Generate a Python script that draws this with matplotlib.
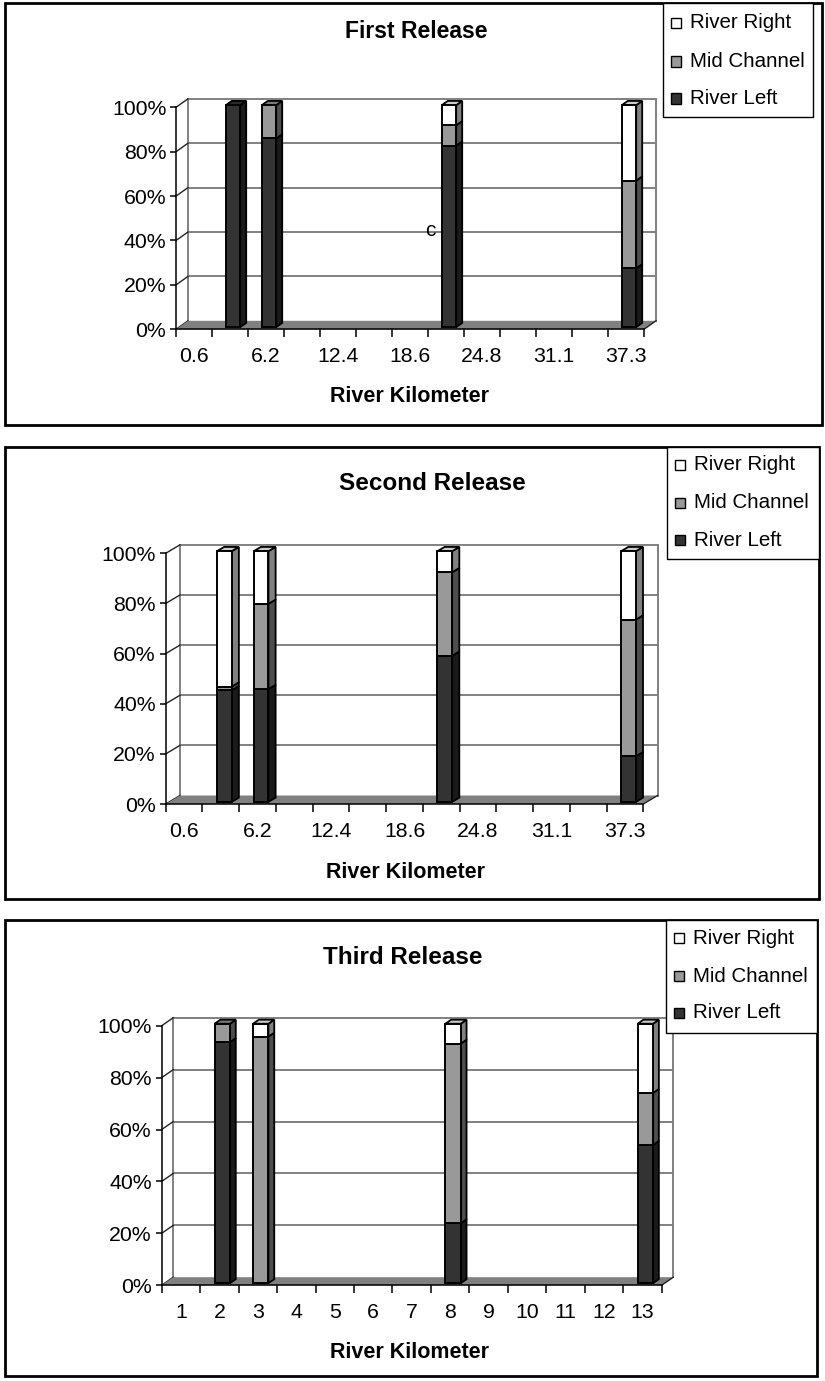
import numpy as np
import matplotlib
matplotlib.use("Agg")
import matplotlib.pyplot as plt
from matplotlib.patches import Rectangle, Polygon

plt.rcParams['font.family'] = ['Liberation Sans', 'DejaVu Sans']

# series, bottom to top of each stack
series_names = ["River Left", "Mid Channel", "River Right"]
series_colors = ["#333333", "#999999", "#ffffff"]

km_labels = ["0.6", "3.1", "6.2", "9.3", "12.4", "15.5", "18.6",
             "21.7", "24.8", "28.0", "31.1", "34.2", "37.3"]
third_labels = ["1", "2", "3", "4", "5", "6", "7", "8", "9", "10", "11", "12", "13"]

# percent of fish at each position
first_left = [0, 100, 85, 0, 0, 0, 0, 81.8, 0, 0, 0, 0, 26.5]
first_mid = [0, 0, 15, 0, 0, 0, 0, 9.1, 0, 0, 0, 0, 39.5]
first_right = [0, 0, 0, 0, 0, 0, 0, 9.1, 0, 0, 0, 0, 34.0]

second_left = [0, 44.5, 45, 0, 0, 0, 0, 58.3, 0, 0, 0, 0, 18.2]
second_mid = [0, 1.5, 34, 0, 0, 0, 0, 33.3, 0, 0, 0, 0, 54.5]
second_right = [0, 54.0, 21, 0, 0, 0, 0, 8.4, 0, 0, 0, 0, 27.3]

third_left = [0, 92.9, 0, 0, 0, 0, 0, 23.1, 0, 0, 0, 0, 53.3]
third_mid = [0, 7.1, 95, 0, 0, 0, 0, 69.2, 0, 0, 0, 0, 20.0]
third_right = [0, 0, 5, 0, 0, 0, 0, 7.7, 0, 0, 0, 0, 26.7]

W, H = 825, 1381
fig = plt.figure(figsize=(W / 100, H / 100), dpi=100)


def fx(x):
    return x / W


def fy(y):
    return 1 - y / H


def shade(c, f):
    rgb = np.array(matplotlib.colors.to_rgb(c)) * f
    return tuple(np.clip(rgb, 0, 1))


def draw_panel(cfg, stacks, labels, shown):
    bx0, by0, bx1, by1 = cfg['box']
    fig.patches.append(Rectangle((fx(bx0), fy(by1)), fx(bx1) - fx(bx0), fy(by0) - fy(by1),
                                 transform=fig.transFigure, fill=False,
                                 edgecolor='black', linewidth=2))
    x0, x1, ytop, ybot = cfg['front']
    ax = fig.add_axes([fx(x0), fy(ybot), fx(x1) - fx(x0), fy(ytop) - fy(ybot)])
    n = len(labels)
    ax.set_xlim(-0.5, n - 0.5)
    ax.set_ylim(0, 100)
    ax.patch.set_visible(False)

    # depth of the 3d box, in data units
    ddx = cfg['depth'][0] / ((x1 - x0) / n)
    ddy = cfg['depth'][1] / ((ybot - ytop) / 100)
    xl, xr = -0.5, n - 0.5

    # back wall and gridlines
    for v in [20, 40, 60, 80, 100]:
        ax.plot([xl + ddx, xr + ddx], [v + ddy, v + ddy], color='#808080', lw=1.4,
                clip_on=False, zorder=1)
    for xe in [xl + ddx, xr + ddx]:
        ax.plot([xe, xe], [ddy, 100 + ddy], color='#808080', lw=1.4, clip_on=False, zorder=1)
    # side wall
    for v in [0, 20, 40, 60, 80, 100]:
        ax.plot([xl, xl + ddx], [v, v + ddy], color='#222222', lw=1.0, clip_on=False, zorder=2)
    # floor
    ax.add_patch(Polygon([(xl, 0), (xr, 0), (xr + ddx, ddy), (xl + ddx, ddy)], closed=True,
                         facecolor='#808080', edgecolor='none', clip_on=False, zorder=2))
    ax.plot([xr, xr + ddx], [0, ddy], color='#222222', lw=1.0, clip_on=False, zorder=2)

    # stacked 3d columns
    x = np.arange(n)
    w = 0.4
    f, bd = 0.25, 0.5
    bottom = np.zeros(n)
    top_color = [None] * n
    for vals, color in zip(stacks, series_colors):
        vals = np.array(vals, dtype=float)
        idx = np.where(vals > 0)[0]
        ax.bar(x[idx] + f * ddx, vals[idx], w, bottom=bottom[idx] + f * ddy, color=color,
               edgecolor='black', linewidth=1.4, zorder=4, clip_on=False)
        for i in idx:
            r = x[i] + f * ddx + w / 2
            b = bottom[i] + f * ddy
            t = b + vals[i]
            ax.add_patch(Polygon([(r, b), (r + bd * ddx, b + bd * ddy),
                                  (r + bd * ddx, t + bd * ddy), (r, t)], closed=True,
                                 facecolor=shade(color, 0.5), edgecolor='black',
                                 linewidth=1.3, clip_on=False, zorder=3))
            top_color[i] = color
        bottom += vals
    for i in range(n):
        if top_color[i] is None:
            continue
        l = x[i] + f * ddx - w / 2
        r = l + w
        t = bottom[i] + f * ddy
        ax.add_patch(Polygon([(l, t), (r, t), (r + bd * ddx, t + bd * ddy),
                              (l + bd * ddx, t + bd * ddy)], closed=True,
                             facecolor=shade(top_color[i], 0.8), edgecolor='black',
                             linewidth=1.3, clip_on=False, zorder=3))

    # front axes
    for s in ['top', 'right']:
        ax.spines[s].set_visible(False)
    for s in ['left', 'bottom']:
        ax.spines[s].set_color('black')
        ax.spines[s].set_linewidth(1.1)
        ax.spines[s].set_zorder(5)
    ax.set_yticks([0, 20, 40, 60, 80, 100])
    ax.set_yticklabels(['0%', '20%', '40%', '60%', '80%', '100%'], fontsize=15.3)
    ax.tick_params(axis='y', length=4, width=1.1, pad=3)
    ax.set_xticks(np.arange(n + 1) - 0.5)
    ax.set_xticklabels([])
    ax.tick_params(axis='x', which='major', length=6, width=1.1)
    ax.set_xticks(x, minor=True)
    ax.set_xticklabels([lab if k % shown == 0 else '' for k, lab in enumerate(labels)],
                       minor=True, fontsize=15.3)
    ax.tick_params(axis='x', which='minor', length=0, pad=cfg['xpad'])

    tx, ty = cfg['title_pos']
    fig.text(fx(tx), fy(ty), cfg['title'], ha='center', va='center',
             fontsize=cfg['title_size'], weight='bold')
    lx, ly = cfg['xlabel_pos']
    fig.text(fx(lx), fy(ly), 'River Kilometer', ha='center', va='center',
             fontsize=15.5, weight='bold')

    # legend, top entry first
    gx0, gy0, gx1, gy1 = cfg['legend_box']
    fig.patches.append(Rectangle((fx(gx0), fy(gy1)), fx(gx1) - fx(gx0), fy(gy0) - fy(gy1),
                                 transform=fig.transFigure, facecolor='white',
                                 edgecolor='black', linewidth=1, zorder=10))
    for name, color, ry in zip(series_names[::-1], series_colors[::-1], cfg['legend_rows']):
        fig.patches.append(Rectangle((fx(gx0 + 8), fy(ry + 5)), fx(10), 10 / H,
                                     transform=fig.transFigure, facecolor=color,
                                     edgecolor='black', linewidth=1, zorder=11))
        fig.text(fx(gx0 + 27), fy(ry), name, ha='left', va='center', fontsize=14.8, zorder=12)
    return ax


panels = [
    dict(box=(5, 3, 822, 425), front=(176, 644, 107.3, 329.3), depth=(12, 8.5), xpad=13,
         title='First Release', title_pos=(416, 32), title_size=16.5,
         xlabel_pos=(410, 397), legend_box=(663, 3, 813, 117), legend_rows=(23, 61.5, 98.5)),
    dict(box=(5, 447, 819, 899), front=(165.7, 643.3, 553.3, 804), depth=(14.3, 8.5), xpad=13,
         title='Second Release', title_pos=(432, 484), title_size=17.5,
         xlabel_pos=(405, 872), legend_box=(667, 447, 819, 559), legend_rows=(465, 503, 540)),
    dict(box=(5, 920, 817, 1376), front=(161.7, 661.7, 1025.7, 1285.2), depth=(11.6, 8), xpad=13,
         title='Third Release', title_pos=(403, 957), title_size=17.5,
         xlabel_pos=(410, 1353), legend_box=(666, 920, 817, 1033), legend_rows=(938, 976, 1013)),
]

draw_panel(panels[0], [first_left, first_mid, first_right], km_labels, 2)
draw_panel(panels[1], [second_left, second_mid, second_right], km_labels, 2)
draw_panel(panels[2], [third_left, third_mid, third_right], third_labels, 1)

# stray label on the first chart
fig.text(fx(430), fy(230), 'c', ha='center', va='center', fontsize=15)

fig.savefig('out.png', dpi=100)
